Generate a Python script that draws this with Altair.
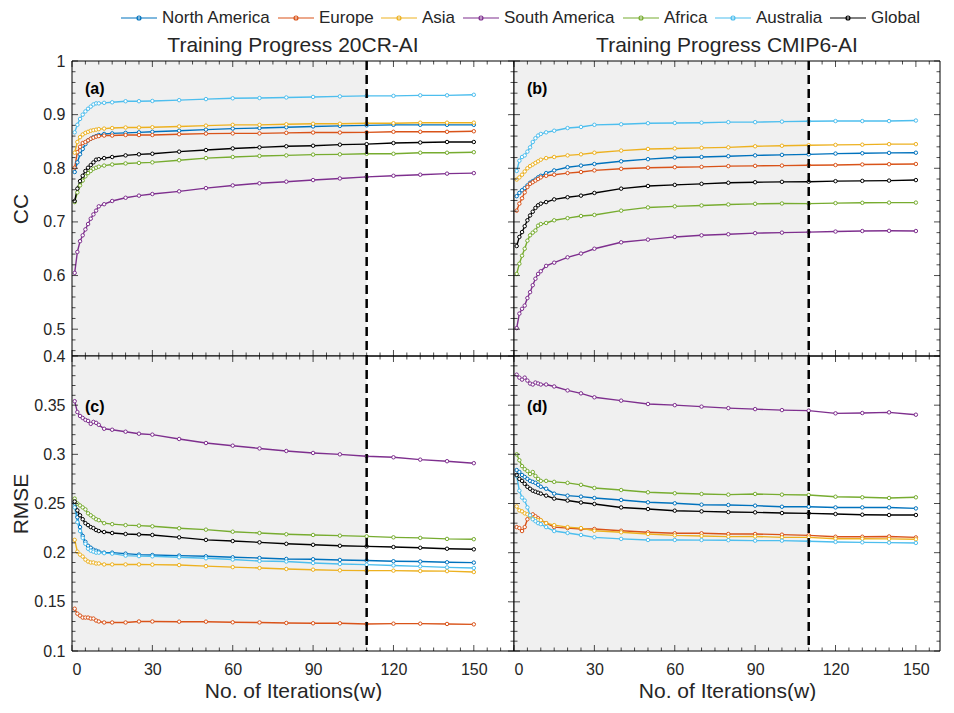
import altair as alt
import pandas as pd
import numpy as np

REGIONS = ["North America", "Europe", "Asia", "South America", "Africa", "Australia", "Global"]
COLORS = ["#0072BD", "#D95319", "#EDB120", "#7E2F8E", "#77AC30", "#4DBEEE", "#000000"]

ITER = [1, 2, 3, 4, 5, 6, 7, 8, 9, 10, 12, 15, 20, 25,
        30, 40, 50, 60, 70, 80, 90, 100, 110, 120, 130, 140, 150]

# (a) CC, 20CR-AI
cc20_na = [0.793, 0.811, 0.826, 0.836, 0.845, 0.852, 0.855, 0.858, 0.860, 0.862, 0.864, 0.865, 0.866, 0.867,
           0.868, 0.870, 0.872, 0.874, 0.875, 0.8765, 0.878, 0.879, 0.880, 0.881, 0.881, 0.881, 0.881]
cc20_eu = [0.801, 0.830, 0.840, 0.847, 0.849, 0.852, 0.855, 0.857, 0.859, 0.860, 0.861, 0.861, 0.862, 0.862,
           0.862, 0.8635, 0.8646, 0.865, 0.865, 0.866, 0.8666, 0.8666, 0.867, 0.868, 0.868, 0.868, 0.869]
cc20_as = [0.829, 0.849, 0.858, 0.863, 0.866, 0.868, 0.870, 0.871, 0.872, 0.873, 0.874, 0.875, 0.876, 0.876,
           0.8765, 0.878, 0.8795, 0.881, 0.881, 0.882, 0.883, 0.883, 0.884, 0.884, 0.885, 0.885, 0.885]
cc20_sa = [0.605, 0.644, 0.664, 0.675, 0.686, 0.696, 0.706, 0.714, 0.721, 0.729, 0.733, 0.739, 0.745, 0.749,
           0.752, 0.757, 0.763, 0.768, 0.772, 0.775, 0.778, 0.781, 0.784, 0.786, 0.788, 0.790, 0.791]
cc20_af = [0.737, 0.755, 0.768, 0.777, 0.785, 0.791, 0.795, 0.799, 0.801, 0.803, 0.805, 0.807, 0.809, 0.810,
           0.811, 0.815, 0.819, 0.821, 0.823, 0.824, 0.8255, 0.826, 0.827, 0.827, 0.829, 0.829, 0.830]
cc20_au = [0.867, 0.881, 0.892, 0.900, 0.906, 0.911, 0.915, 0.919, 0.921, 0.921, 0.922, 0.923, 0.925, 0.925,
           0.9255, 0.927, 0.929, 0.9305, 0.931, 0.932, 0.933, 0.934, 0.935, 0.935, 0.936, 0.936, 0.937]
cc20_gl = [0.739, 0.762, 0.776, 0.786, 0.795, 0.801, 0.806, 0.811, 0.816, 0.817, 0.819, 0.821, 0.824, 0.826,
           0.827, 0.831, 0.834, 0.837, 0.839, 0.841, 0.842, 0.844, 0.845, 0.847, 0.848, 0.849, 0.849]

# (b) CC, CMIP6-AI
cccm_na = [0.748, 0.754, 0.759, 0.763, 0.768, 0.773, 0.776, 0.779, 0.783, 0.786, 0.791, 0.796, 0.802, 0.805,
           0.808, 0.813, 0.817, 0.820, 0.821, 0.8225, 0.824, 0.825, 0.826, 0.8274, 0.828, 0.8287, 0.829]
cccm_eu = [0.721, 0.734, 0.744, 0.755, 0.765, 0.771, 0.774, 0.777, 0.780, 0.783, 0.786, 0.788, 0.791, 0.793,
           0.796, 0.799, 0.801, 0.802, 0.8026, 0.804, 0.8045, 0.805, 0.8057, 0.806, 0.807, 0.8076, 0.808]
cccm_as = [0.779, 0.783, 0.788, 0.794, 0.800, 0.804, 0.807, 0.810, 0.813, 0.816, 0.819, 0.821, 0.824, 0.826,
           0.829, 0.833, 0.836, 0.837, 0.838, 0.839, 0.841, 0.842, 0.843, 0.8436, 0.844, 0.845, 0.845]
cccm_sa = [0.502, 0.529, 0.538, 0.544, 0.558, 0.569, 0.582, 0.594, 0.603, 0.608, 0.618, 0.624, 0.634, 0.641,
           0.650, 0.662, 0.667, 0.672, 0.675, 0.677, 0.679, 0.680, 0.681, 0.682, 0.683, 0.6834, 0.683]
cccm_af = [0.603, 0.622, 0.637, 0.650, 0.665, 0.675, 0.680, 0.684, 0.693, 0.696, 0.698, 0.703, 0.707, 0.711,
           0.713, 0.721, 0.727, 0.729, 0.7306, 0.7325, 0.7337, 0.7343, 0.734, 0.735, 0.7356, 0.736, 0.736]
cccm_au = [0.795, 0.814, 0.821, 0.824, 0.831, 0.839, 0.849, 0.856, 0.861, 0.864, 0.867, 0.870, 0.875, 0.877,
           0.881, 0.882, 0.884, 0.8845, 0.885, 0.886, 0.886, 0.887, 0.8877, 0.888, 0.888, 0.888, 0.889]
cccm_gl = [0.655, 0.672, 0.681, 0.692, 0.703, 0.712, 0.719, 0.726, 0.731, 0.734, 0.737, 0.742, 0.746, 0.749,
           0.754, 0.762, 0.767, 0.769, 0.771, 0.773, 0.774, 0.7747, 0.775, 0.776, 0.7765, 0.777, 0.778]

# (c) RMSE, 20CR-AI
rm20_na = [0.250, 0.236, 0.226, 0.217, 0.211, 0.207, 0.205, 0.203, 0.202, 0.201, 0.200, 0.200, 0.199, 0.198,
           0.1976, 0.197, 0.1963, 0.1953, 0.1946, 0.1936, 0.1933, 0.1926, 0.192, 0.1913, 0.191, 0.1902, 0.1899]
rm20_eu = [0.143, 0.138, 0.136, 0.134, 0.134, 0.134, 0.133, 0.133, 0.131, 0.130, 0.129, 0.129, 0.129, 0.130,
           0.130, 0.1298, 0.1298, 0.1292, 0.129, 0.1285, 0.1282, 0.1282, 0.1275, 0.1278, 0.1278, 0.1275, 0.1271]
rm20_as = [0.213, 0.201, 0.198, 0.196, 0.193, 0.191, 0.190, 0.190, 0.189, 0.189, 0.188, 0.188, 0.188, 0.188,
           0.1878, 0.1874, 0.1863, 0.1853, 0.1844, 0.1834, 0.1827, 0.182, 0.1817, 0.1817, 0.1813, 0.1812, 0.1803]
rm20_sa = [0.354, 0.343, 0.339, 0.337, 0.335, 0.334, 0.331, 0.333, 0.332, 0.330, 0.326, 0.325, 0.323, 0.321,
           0.320, 0.3156, 0.3115, 0.3088, 0.306, 0.3034, 0.3014, 0.300, 0.298, 0.297, 0.2946, 0.293, 0.291]
rm20_af = [0.255, 0.250, 0.248, 0.246, 0.244, 0.240, 0.238, 0.236, 0.234, 0.233, 0.230, 0.229, 0.228, 0.2275,
           0.2268, 0.2248, 0.2234, 0.2213, 0.220, 0.2187, 0.218, 0.2173, 0.2166, 0.2156, 0.215, 0.214, 0.2137]
rm20_au = [0.246, 0.231, 0.222, 0.215, 0.209, 0.204, 0.202, 0.201, 0.200, 0.200, 0.1995, 0.199, 0.197, 0.1965,
           0.1963, 0.1953, 0.1943, 0.193, 0.1915, 0.191, 0.1895, 0.1885, 0.1878, 0.187, 0.1861, 0.185, 0.1844]
rm20_gl = [0.252, 0.243, 0.238, 0.234, 0.230, 0.228, 0.226, 0.225, 0.223, 0.222, 0.221, 0.220, 0.219, 0.2185,
           0.218, 0.2156, 0.213, 0.2118, 0.2105, 0.209, 0.208, 0.207, 0.2064, 0.2057, 0.205, 0.204, 0.2034]

# (d) RMSE, CMIP6-AI
rmcm_na = [0.284, 0.282, 0.279, 0.277, 0.275, 0.273, 0.272, 0.271, 0.269, 0.267, 0.265, 0.260, 0.258, 0.257,
           0.2556, 0.2536, 0.2512, 0.2502, 0.2488, 0.2485, 0.2478, 0.2467, 0.2467, 0.246, 0.246, 0.246, 0.245]
rmcm_eu = [0.226, 0.225, 0.222, 0.226, 0.234, 0.238, 0.239, 0.237, 0.235, 0.233, 0.230, 0.226, 0.225, 0.224,
           0.2241, 0.2223, 0.2207, 0.2197, 0.2197, 0.219, 0.219, 0.2183, 0.2176, 0.2162, 0.2162, 0.2165, 0.2155]
rmcm_as = [0.247, 0.243, 0.242, 0.240, 0.239, 0.237, 0.235, 0.234, 0.233, 0.233, 0.230, 0.228, 0.226, 0.225,
           0.2223, 0.2207, 0.219, 0.2176, 0.217, 0.2163, 0.2165, 0.2156, 0.2156, 0.2142, 0.2142, 0.214, 0.2136]
rmcm_sa = [0.381, 0.378, 0.376, 0.378, 0.375, 0.372, 0.371, 0.373, 0.372, 0.371, 0.371, 0.369, 0.365, 0.362,
           0.358, 0.3546, 0.3512, 0.350, 0.3485, 0.347, 0.346, 0.345, 0.3444, 0.3417, 0.3420, 0.3427, 0.3403]
rmcm_af = [0.300, 0.294, 0.288, 0.285, 0.283, 0.280, 0.282, 0.278, 0.275, 0.273, 0.273, 0.272, 0.271, 0.269,
           0.2658, 0.2637, 0.2614, 0.2604, 0.2597, 0.259, 0.2597, 0.259, 0.2586, 0.2569, 0.2563, 0.2556, 0.2563]
rmcm_au = [0.278, 0.263, 0.256, 0.253, 0.246, 0.238, 0.234, 0.232, 0.230, 0.229, 0.226, 0.222, 0.220, 0.218,
           0.2156, 0.214, 0.2129, 0.2129, 0.2128, 0.2127, 0.2122, 0.2122, 0.2116, 0.2109, 0.2105, 0.2102, 0.2099]
rmcm_gl = [0.279, 0.275, 0.273, 0.270, 0.267, 0.265, 0.263, 0.262, 0.261, 0.260, 0.258, 0.255, 0.253, 0.251,
           0.2495, 0.246, 0.2444, 0.2427, 0.242, 0.2413, 0.241, 0.2403, 0.240, 0.2393, 0.2386, 0.2383, 0.2383]

PANEL_TITLES = ["Training Progress 20CR-AI", "Training Progress CMIP6-AI"]
PANEL_LABELS = ["(a)", "(b)", "(c)", "(d)"]
X_LABELS = [0, 30, 60, 90, 120, 150]
CC_LABELS = [0.5, 0.6, 0.7, 0.8, 0.9, 1.0]
RMSE_LABELS = [0.1, 0.15, 0.2, 0.25, 0.3, 0.35, 0.4]
TRAIN_END = 110

TXT = "#262626"
H = 295

# legend symbol: a 36px line with a small open circle; the layout box is only 18px
legend_symbol = "M-2,0L2,0M0.22,0A0.22,0.22,0,1,1,-0.22,0A0.22,0.22,0,1,1,0.22,0"
LEGEND = alt.Legend(orient="none", legendX=57, legendY=-53, direction="horizontal", title=None,
                    labelFontSize=17, labelColor=TXT, symbolType=legend_symbol, symbolSize=324,
                    symbolStrokeWidth=1.2, symbolFillColor="white", labelOffset=13, columnPadding=4,
                    padding=0)
COLOR = dict(scale=alt.Scale(domain=REGIONS, range=COLORS), legend=LEGEND)


def long_df(series):
    rows = []
    for reg, vals in zip(REGIONS, series):
        for x, v in zip(ITER, vals):
            rows.append({"Iteration": x, "Value": v, "Region": reg})
    return pd.DataFrame(rows)


def panel(series, xmax, W, ydom, ykmin, ykmax, ydiv, major_every, show_x, show_y,
          ytitle, ylabels, yfmt, label, label_y, title=None):
    xs = alt.Scale(domain=[0, xmax], nice=False, zero=False)
    ys = alt.Scale(domain=ydom, nice=False, zero=False)
    if show_x:
        xaxis = alt.Axis(values=X_LABELS, format="d", labelFontSize=16, labelColor=TXT, labelPadding=10,
                         ticks=False, domain=False, grid=False, title="No. of Iterations(w)",
                         titleFontSize=21, titleFontWeight="normal", titleColor=TXT, titlePadding=3)
    else:
        xaxis = None
    if show_y:
        yaxis = alt.Axis(values=ylabels, format=yfmt, labelFontSize=16, labelColor=TXT, labelPadding=7,
                         ticks=False, domain=False, grid=False, title=ytitle, titleFontSize=21,
                         titleFontWeight="normal", titleColor=TXT, titlePadding=7,
                         minExtent=34, maxExtent=34)
    else:
        yaxis = None

    def X(f):
        return alt.X(f, type="quantitative", scale=xs, axis=xaxis)

    def Y(f):
        return alt.Y(f, type="quantitative", scale=ys, axis=yaxis)

    df = long_df(series)
    one = pd.DataFrame({"a": [0]})

    shade = alt.Chart(pd.DataFrame({"x0": [0], "x1": [TRAIN_END]})).mark_rect(color="#f0f0f0").encode(
        x=X("x0"), x2="x1", y=alt.value(0), y2=alt.value(H))

    lines = alt.Chart(df).mark_line(strokeWidth=1.4, clip=True).encode(
        x=X("Iteration"), y=Y("Value"),
        color=alt.Color("Region:N", **COLOR), detail="Region:N",
        order=alt.Order("Iteration:Q"))
    pts = alt.Chart(df).mark_point(shape="circle", filled=False, fill="white", fillOpacity=1,
                                   size=12, strokeWidth=1, opacity=1, clip=True).encode(
        x=X("Iteration"), y=Y("Value"), color=alt.Color("Region:N", **COLOR))

    dash = alt.Chart(pd.DataFrame({"v": [TRAIN_END]})).mark_rule(
        color="black", strokeWidth=2.5, strokeDash=[9, 5]).encode(x=X("v"))

    xt = np.arange(0, xmax + 0.01, 5)
    xmaj = pd.DataFrame({"v": [v for v in xt if v % 30 == 0]})
    xmin = pd.DataFrame({"v": [v for v in xt if v % 30 != 0]})
    ks = list(range(ykmin, ykmax + 1))
    ymaj = pd.DataFrame({"v": [k / ydiv for k in ks if k % major_every == 0]})
    ymin = pd.DataFrame({"v": [k / ydiv for k in ks if k % major_every != 0]})

    ticks = []
    for d, ln in ((xmaj, 6), (xmin, 3.5)):
        for ypx in (H - ln / 2, ln / 2):
            ticks.append(alt.Chart(d).mark_tick(orient="vertical", size=ln, thickness=1, color="black")
                         .encode(x=X("v"), y=alt.value(ypx)))
    for d, ln in ((ymaj, 6), (ymin, 3.5)):
        for xpx in (ln / 2, W - ln / 2):
            ticks.append(alt.Chart(d).mark_tick(orient="horizontal", size=ln, thickness=1, color="black")
                         .encode(y=Y("v"), x=alt.value(xpx)))

    frame = alt.Chart(one).mark_rect(fill="transparent", stroke="black", strokeWidth=1).encode(
        x=alt.value(0), x2=alt.value(W), y=alt.value(0), y2=alt.value(H))

    lab = alt.Chart(one).mark_text(text=label, fontSize=16, fontWeight="bold", color="black",
                                   align="left", baseline="middle").encode(
        x=alt.value(13), y=alt.value(label_y))

    layers = [shade, lines, pts, dash, *ticks, lab, frame]
    if title is not None:
        ttl = alt.Chart(one).mark_text(text=title, fontSize=21, color=TXT, align="center",
                                       baseline="alphabetic").encode(
            x=alt.value(W / 2), y=alt.value(-9))
        layers.append(ttl)
    return alt.layer(*layers).properties(width=W, height=H)


pa = panel([cc20_na, cc20_eu, cc20_as, cc20_sa, cc20_af, cc20_au, cc20_gl], 165, 442, [0.45, 1.0],
           23, 50, 50, 5, False, True, "CC", CC_LABELS, ".1~f", PANEL_LABELS[0], 28, PANEL_TITLES[0])
pb = panel([cccm_na, cccm_eu, cccm_as, cccm_sa, cccm_af, cccm_au, cccm_gl], 159, 426, [0.45, 1.0],
           23, 50, 50, 5, False, False, "CC", CC_LABELS, ".1~f", PANEL_LABELS[1], 28, PANEL_TITLES[1])
pc = panel([rm20_na, rm20_eu, rm20_as, rm20_sa, rm20_af, rm20_au, rm20_gl], 165, 442, [0.1, 0.4],
           10, 40, 100, 5, True, True, "RMSE", RMSE_LABELS, ".2~f", PANEL_LABELS[2], 51)
pd_ = panel([rmcm_na, rmcm_eu, rmcm_as, rmcm_sa, rmcm_af, rmcm_au, rmcm_gl], 159, 426, [0.1, 0.4],
            10, 40, 100, 5, True, False, "RMSE", RMSE_LABELS, ".2~f", PANEL_LABELS[3], 51)

chart = alt.concat(pa, pb, pc, pd_, columns=2, spacing=0, bounds="flush").properties(
    padding={"left": 2, "top": 0, "right": 0, "bottom": 0}
).configure(font="Liberation Sans").configure_view(strokeWidth=0)

chart.save("out.html", embed_options={"renderer": "svg", "actions": False})
